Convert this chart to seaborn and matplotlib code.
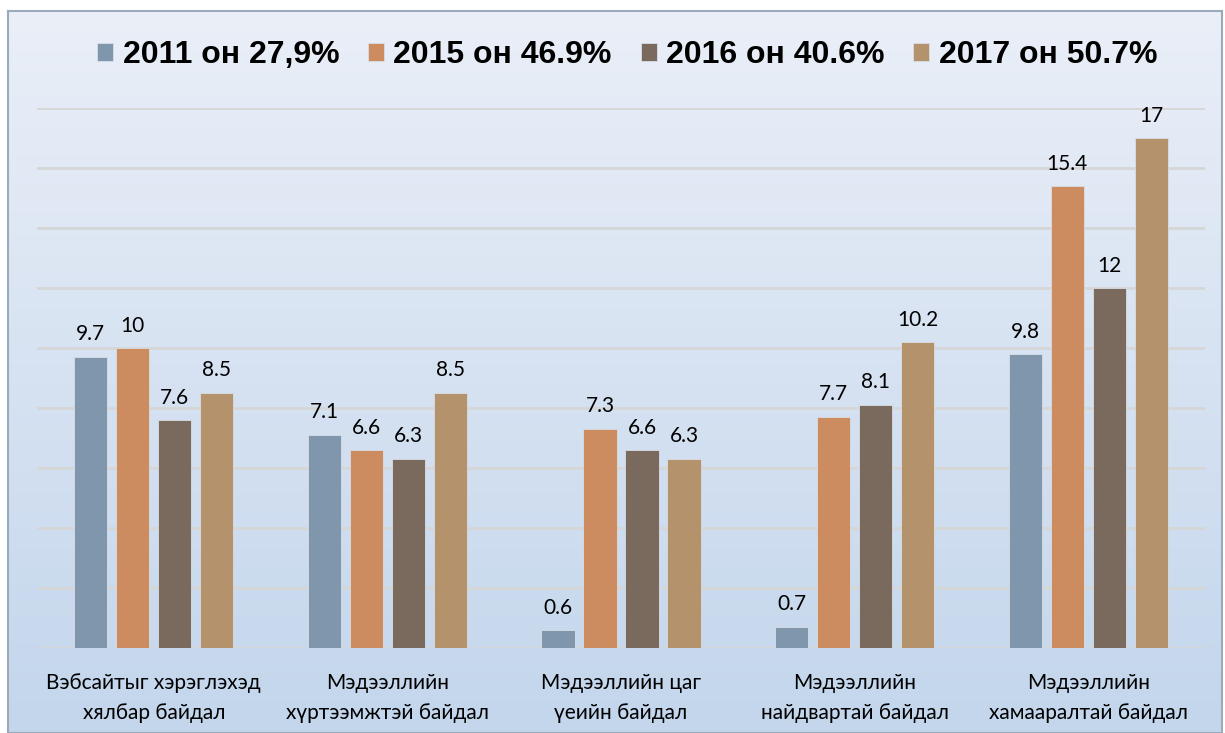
import numpy as np
import pandas as pd
import seaborn as sns
import matplotlib.pyplot as plt

# chart data
categories = [
    "Вэбсайтыг хэрэглэхэд\nхялбар байдал",
    "Мэдээллийн\nхүртээмжтэй байдал",
    "Мэдээллийн цаг\nүеийн байдал",
    "Мэдээллийн\nнайдвартай байдал",
    "Мэдээллийн\nхамааралтай байдал",
]
series_names = ["2011 он 27,9%", "2015 он 46.9%", "2016 он 40.6%", "2017 он 50.7%"]
values_2011 = [9.7, 7.1, 0.6, 0.7, 9.8]
values_2015 = [10, 6.6, 7.3, 7.7, 15.4]
values_2016 = [7.6, 6.3, 6.6, 8.1, 12]
values_2017 = [8.5, 8.5, 6.3, 10.2, 17]
colors = ["#8096AD", "#CD8C5F", "#7A6A5E", "#B4936C"]

rows = []
for name, vals in zip(series_names, [values_2011, values_2015, values_2016, values_2017]):
    for cat, v in zip(categories, vals):
        rows.append({"category": cat, "value": v, "series": name})
df = pd.DataFrame(rows)

sns.set_style("white")
plt.rcParams["font.family"] = ["Lato", "DejaVu Sans"]

fig = plt.figure(figsize=(12.25, 7.33), dpi=100)
fig.patch.set_facecolor("white")

# gradient background frame
bg = fig.add_axes([8 / 1225, 0, 1214 / 1225, 722 / 733])
grad = np.linspace(0, 1, 256).reshape(-1, 1)
top = np.array([0.918, 0.937, 0.972])
bottom = np.array([0.765, 0.839, 0.925])
img = top + (bottom - top) * grad[:, :, None] * np.ones((1, 2, 1))
bg.imshow(img, aspect="auto", extent=[0, 1, 0, 1], origin="upper")
bg.set_xticks([])
bg.set_yticks([])
for s in bg.spines.values():
    s.set_color("#9AAABB")
    s.set_linewidth(1.5)

ax = fig.add_axes([37 / 1225, 1 - 648 / 733, 1168 / 1225, 540 / 733])
ax.patch.set_alpha(0)

sns.barplot(data=df, x="category", y="value", hue="series", palette=colors,
            width=0.72, gap=0.21, ax=ax, legend=True, saturation=1,
            edgecolor="#D8DEE6", linewidth=0.6)

for c in ax.containers:
    ax.bar_label(c, fmt="%g", padding=9, fontsize=15, color="black")

ax.set_ylim(0, 18)
ax.set_xlim(-0.5, 4.5)
ax.set_yticks(np.arange(0, 19, 2))
ax.set_yticklabels([])
ax.tick_params(axis="y", length=0)
ax.tick_params(axis="x", length=0, labelsize=15, pad=18, labelcolor="black")
ax.grid(axis="y", color="#D6D6D6", linewidth=2)
ax.set_axisbelow(True)
for s in ax.spines.values():
    s.set_visible(False)
ax.set_xlabel("")
ax.set_ylabel("")
for lbl in ax.get_xticklabels():
    lbl.set_linespacing(1.65)

handles, labels = ax.get_legend_handles_labels()
ax.get_legend().remove()
leg = fig.legend(handles, labels, loc="center", bbox_to_anchor=(0.512, 0.925), ncol=4,
                 frameon=False, handlelength=0.5, handleheight=0.5, handletextpad=0.3,
                 columnspacing=0.9, prop={"family": "Liberation Sans", "weight": "bold", "size": 23})
for t in leg.get_texts():
    t.set_color("black")

fig.savefig("out.png", dpi=100)
